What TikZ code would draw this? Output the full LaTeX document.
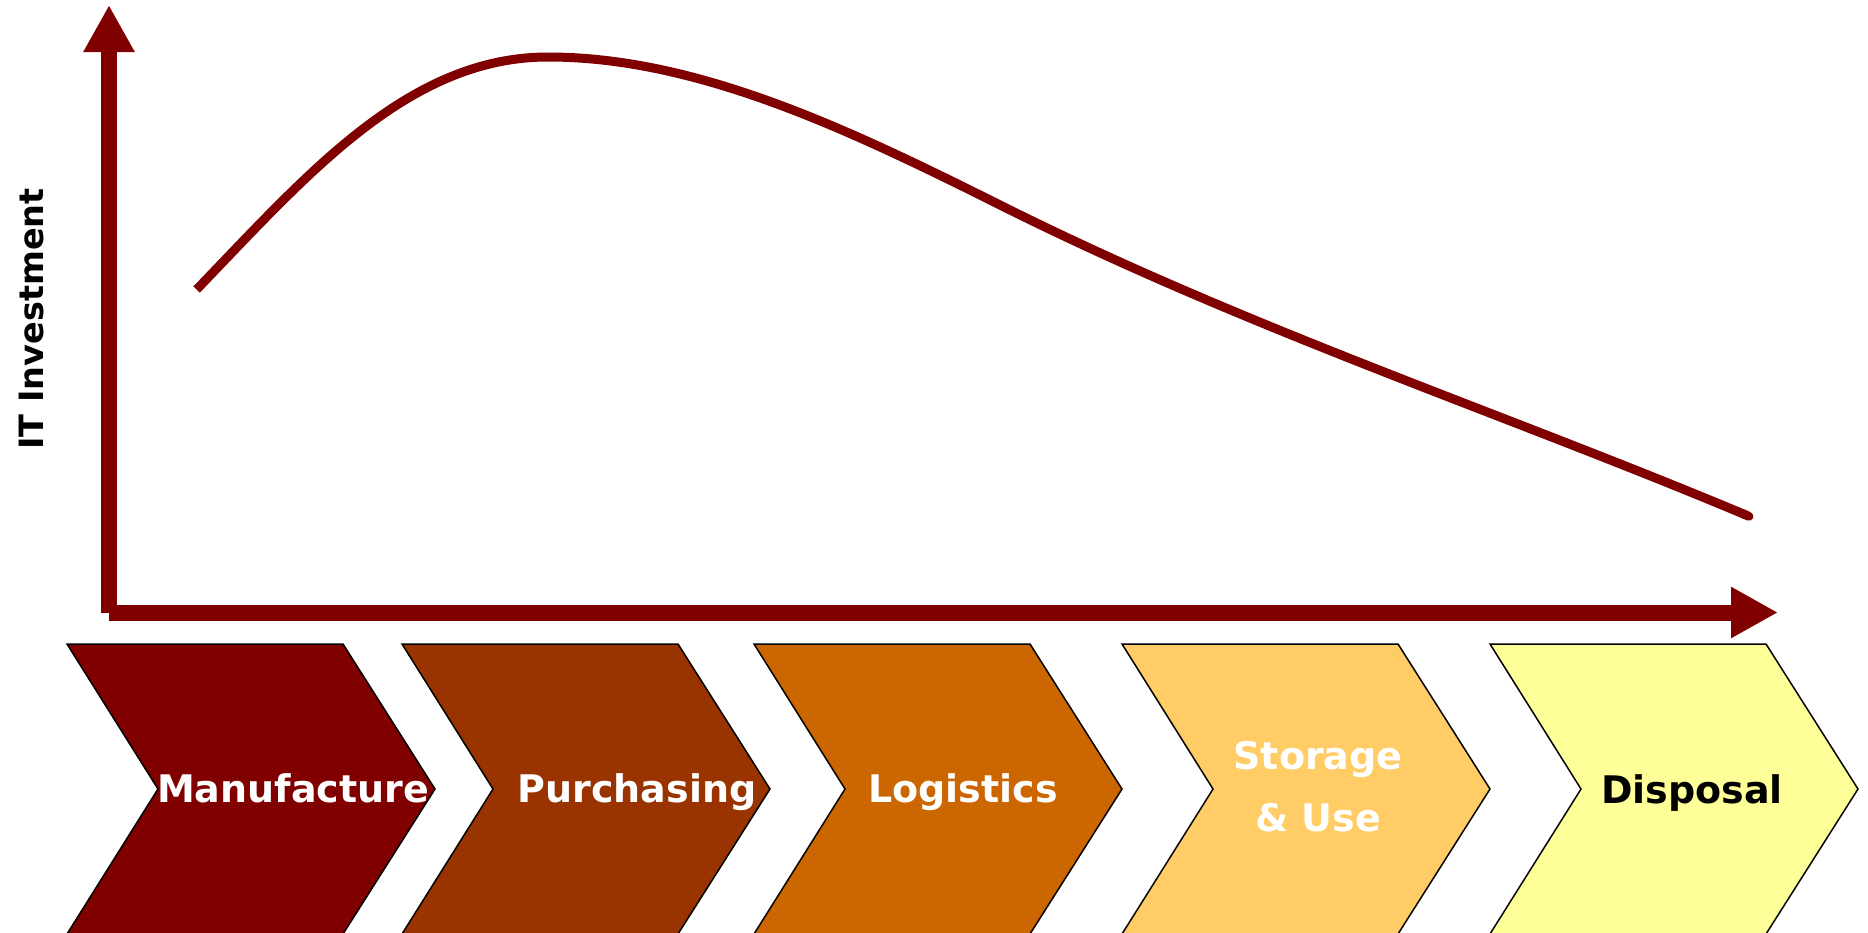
\documentclass[tikz,border=0pt]{standalone}
\usepackage{fontspec}
\setmainfont{DejaVu Sans}
\usetikzlibrary{arrows.meta}
\definecolor{axisred}{HTML}{800000}
\definecolor{cmanu}{HTML}{800000}
\definecolor{cpurch}{HTML}{993300}
\definecolor{clog}{HTML}{CC6600}
\definecolor{cstore}{HTML}{FFCC66}
\definecolor{cdisp}{HTML}{FFFF99}
\begin{document}
\begin{tikzpicture}[x=1pt,y=-1pt,
  axisline/.style={draw=axisred,line width=16pt,-{Triangle[length=47pt,width=48pt]}},
  curveline/.style={draw=axisred,line width=9pt,line join=round},
  chev/.style={draw=black,line width=1.5pt,line join=miter},
  steplabel/.style={inner sep=0pt,font=\bfseries\fontsize{38}{62}\selectfont,align=center},
  axislabel/.style={inner sep=0pt,font=\bfseries\fontsize{33.5}{40}\selectfont,rotate=90,anchor=base}]
\useasboundingbox (0,0) rectangle (1868,932);
\clip (0,0) rectangle (1868,932);

% chevrons
\foreach \L/\col in {67/cmanu,402/cpurch,754/clog,1122/cstore,1490/cdisp}{
  \path[chev,fill=\col] (\L,644) -- ({\L+276},644) -- ({\L+368},789) -- ({\L+276},934)
     -- (\L,934) -- ({\L+91},789) -- cycle;
}

% axes
\coordinate (ybot) at (109,613);
\coordinate (ytip) at (109,5);
\coordinate (xorg) at (109,612.5);
\coordinate (xtip) at (1778,612.5);
\draw[axisline] (ybot) -- (ytip);
\draw[axisline] (xorg) -- (xtip);

% curve
\coordinate (cstart) at (196.6,289.5);
\coordinate (cpeak) at (548,57);
\coordinate (cmid) at (1000,205);
\coordinate (cend) at (1753,518);
\draw[curveline,-{Round Cap[]}] (cstart)
  .. controls (307,175) and (408,57) .. (cpeak)
  .. controls (698,57) and (850,130) .. (cmid)
  .. controls (1250,330) and (1503,413) .. (cend);

% labels
\node[axislabel] (ylab) at (43,319) {IT Investment};
\node[steplabel,text=white,anchor=base] (manu) at (293,802) {Manufacture};
\node[steplabel,text=white,anchor=base] (purch) at (637,802) {Purchasing};
\node[steplabel,text=white,anchor=base] (logi) at (963,802) {Logistics};
\node[steplabel,text=white] (store) at (1318,787) {Storage\\\& Use};
\node[steplabel,text=black,anchor=base] (disp) at (1692,803) {Disposal};
\end{tikzpicture}
\end{document}
